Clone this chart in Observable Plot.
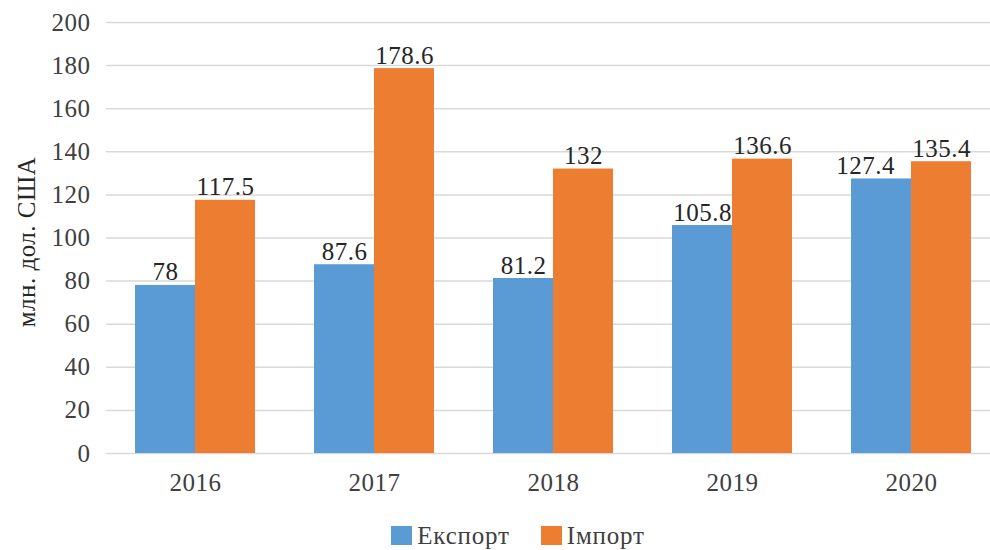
<!DOCTYPE html>
<html>
<head>
<meta charset="utf-8">
<script src="https://cdn.jsdelivr.net/npm/d3@7"></script>
<script src="https://cdn.jsdelivr.net/npm/@observablehq/plot@0.6"></script>
<style>
  html, body { margin: 0; padding: 0; background: #fff; }
  #chart { width: 990px; height: 550px; position: relative; font-family: 'Liberation Serif', serif; }
  #chart svg { display: block; }
  #chart svg, #chart svg text, .legend, .legend span { font-family: 'Liberation Serif', serif !important; }
  #chart svg text { letter-spacing: 0.5px; }
  .legend { display: flex; justify-content: center; align-items: center; gap: 31px; margin-top: 13px; padding-left: 46px; font-size: 25px; line-height: 25px; color: #404040; letter-spacing: 0.8px; }
  .legend .item { display: flex; align-items: center; gap: 5px; }
  .legend .sw { width: 21px; height: 19px; display: inline-block; }
</style>
</head>
<body>
<div id="chart"></div>
<script>
const years = ["2016", "2017", "2018", "2019", "2020"];
const exportValues = [78, 87.6, 81.2, 105.8, 127.4];
const importValues = [117.5, 178.6, 132, 136.6, 135.4];
const seriesNames = ["Експорт", "Імпорт"];
const seriesColors = ["#5B9BD5", "#ED7D31"];
const yTicks = [0, 20, 40, 60, 80, 100, 120, 140, 160, 180, 200];
const yLabel = "млн. дол. США";
const FONT = "Liberation Serif";
const FS = 25;

const exportData = years.map((y, i) => ({year: y, value: exportValues[i], other: importValues[i]}));
const importData = years.map((y, i) => ({year: y, value: importValues[i]}));
// export labels that would collide with the neighbouring import label are nudged left (as in the original)
const crowded = d => Math.abs(d.other - d.value) < 15;

const chart = Plot.plot({
  width: 990,
  height: 510,
  marginLeft: 106,
  marginRight: 0,
  marginTop: 22,
  marginBottom: 57,
  style: {fontFamily: FONT, fontSize: FS + "px", color: "#404040", background: "white"},
  x: {domain: years, range: [105.5, 1000.5], paddingInner: 0.33, paddingOuter: 0.165, align: 0.5},
  y: {domain: [0, 200]},
  marks: [
    Plot.gridY(yTicks, {stroke: "#d9d9d9", strokeOpacity: 1, strokeWidth: 1.5}),
    Plot.barY(exportData, {x: "year", y: "value", fill: seriesColors[0], insetRight: 60}),
    Plot.barY(importData, {x: "year", y: "value", fill: seriesColors[1], insetLeft: 60}),
    Plot.text(exportData.filter(d => !crowded(d)), {x: "year", y: "value", text: d => String(d.value), dx: -30, dy: -13, fill: "#262626", fontSize: FS, fontFamily: FONT}),
    Plot.text(exportData.filter(crowded), {x: "year", y: "value", text: d => String(d.value), dx: -46, dy: -13, fill: "#262626", fontSize: FS, fontFamily: FONT}),
    Plot.text(importData, {x: "year", y: "value", text: d => String(d.value), dx: 30, dy: -13, fill: "#262626", fontSize: FS, fontFamily: FONT}),
    Plot.axisY({ticks: yTicks, tickSize: 0, tickPadding: 16, label: null, fontSize: FS, fill: "#404040", fontFamily: FONT}),
    Plot.axisX({tickSize: 0, tickPadding: 20, label: null, fontSize: FS, fill: "#404040", fontFamily: FONT}),
    Plot.text([yLabel], {frameAnchor: "left", textAnchor: "middle", rotate: -90, dx: -80, dy: 4, fill: "#262626", fontSize: FS, fontFamily: FONT})
  ]
});

const root = document.getElementById("chart");
root.appendChild(chart);

const legend = document.createElement("div");
legend.className = "legend";
seriesNames.forEach((name, i) => {
  const item = document.createElement("div");
  item.className = "item";
  const sw = document.createElement("span");
  sw.className = "sw";
  sw.style.background = seriesColors[i];
  const label = document.createElement("span");
  label.textContent = name;
  item.appendChild(sw);
  item.appendChild(label);
  legend.appendChild(item);
});
root.appendChild(legend);
</script>
</body>
</html>
